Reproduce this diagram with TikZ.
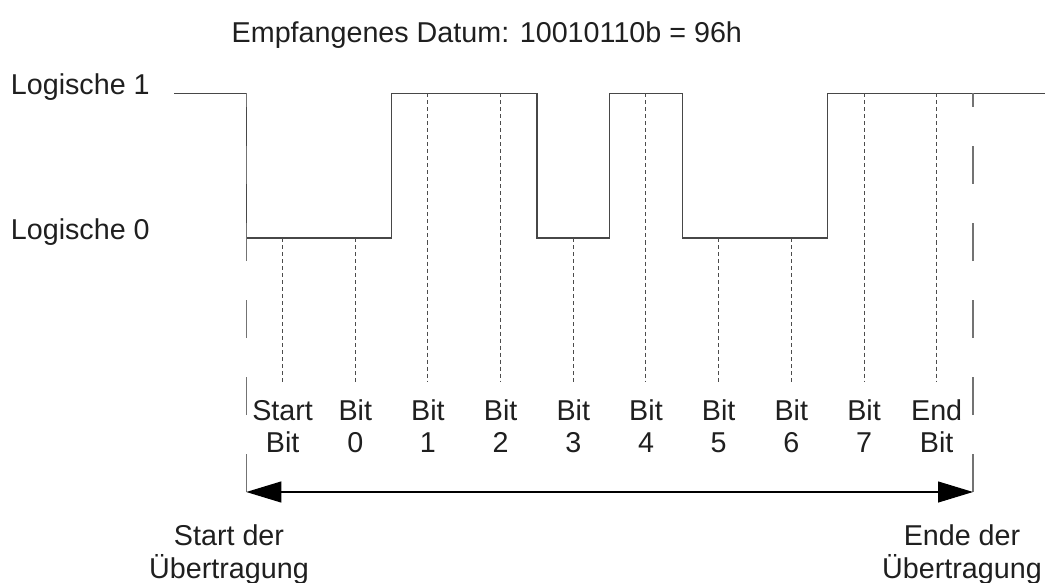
\documentclass[tikz,border=0pt]{standalone}
\usepackage{fontspec}
\setmainfont{Liberation Sans}
\usetikzlibrary{arrows.meta}
\begin{document}
\begin{tikzpicture}[x=1pt,y=-1pt,
  lbl/.style={font=\fontsize{28.7}{32.6}\selectfont, inner sep=0pt, text=black!88, anchor=base},
  wave/.style={draw=black!72, line width=1.3pt, line join=miter},
  bitline/.style={draw=black!70, line width=1pt, dash pattern=on 4pt off 3pt},
  frame/.style={draw=black!55, line width=1.3pt, dash pattern=on 38pt off 39pt},
  span/.style={draw=black, line width=1.1pt, {Triangle[length=35pt,width=21pt]}-{Triangle[length=35pt,width=21pt]}}]
\useasboundingbox (0,0) rectangle (1045,583);

% title and level labels
\node[lbl, anchor=base west] (title) at (231.5,42.3) {Empfangenes Datum: 10010110b = 96h};
\node[lbl, anchor=base west] (l1) at (10.7,94.3) {Logische 1};
\node[lbl, anchor=base west] (l0) at (10.7,239.3) {Logische 0};

% waveform
\path[wave] (174,93.5) -- (246.3,93.5) -- (246.3,238) -- (391.6,238) -- (391.6,93.5)
  -- (537,93.5) -- (537,238) -- (609.7,238) -- (609.7,93.5) -- (682.3,93.5)
  -- (682.3,238) -- (827.7,238) -- (827.7,93.5) -- (1045,93.5);

% frame lines (start / end of transmission)
\coordinate (sb) at (246.3,492);
\coordinate (st) at (246.3,93.5);
\coordinate (eb) at (973,492);
\coordinate (et) at (973,93.5);
\path[frame] (sb) -- (st);
\path[frame] (eb) -- (et);

% bit centre lines and labels (anchor = baseline of last line)
\foreach \i/\lev/\txt in {0/238/{Start\\Bit},1/238/{Bit\\0},2/93.5/{Bit\\1},3/93.5/{Bit\\2},
  4/238/{Bit\\3},5/93.5/{Bit\\4},6/238/{Bit\\5},7/238/{Bit\\6},8/93.5/{Bit\\7},9/93.5/{End\\Bit}}{
  \pgfmathsetmacro{\xc}{246.3+72.67*(\i+0.5)}
  \coordinate (bt\i) at (\xc,\lev);
  \coordinate (bb\i) at (\xc,382);
  \path[bitline] (bt\i) -- (bb\i);
  \node[lbl, align=center] (b\i) at (\xc,452.7) {\txt};
}

% transmission span arrow
\path[span] (sb) -- (eb);

\node[lbl, align=center] (start) at (229,578.5) {Start der\\Übertragung};
\node[lbl, align=center] (ende) at (962,578.5) {Ende der\\Übertragung};
\end{tikzpicture}
\end{document}
